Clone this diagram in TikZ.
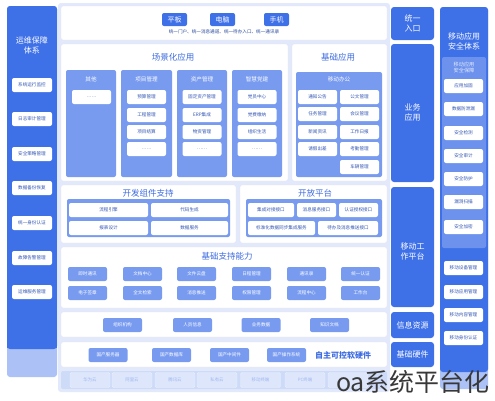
\documentclass[tikz,border=0pt]{standalone}
\usepackage{fontspec}
\setmainfont{Noto Sans CJK SC}
\definecolor{db}{RGB}{62,112,232}
\definecolor{mb}{RGB}{120,155,240}
\definecolor{sb}{RGB}{108,146,238}
\definecolor{bg}{RGB}{226,233,250}
\definecolor{lb}{RGB}{172,194,246}
\definecolor{band}{RGB}{206,219,248}
\definecolor{bandbox}{RGB}{221,230,251}
\definecolor{tb}{RGB}{62,108,225}
\tikzset{
  panel/.style={fill=white, draw=bg!70!blue!30, line width=0.4pt, rounded corners=2pt},
  colbox/.style={fill=db, rounded corners=3pt},
  grp/.style={fill=mb, rounded corners=2pt},
  wbox/.style={fill=white, rounded corners=2pt, minimum height=14pt, inner sep=0pt, font=\fontsize{4.6}{5}\selectfont, text=tb!80!black},
  bbox/.style={fill=mb, rounded corners=2pt, minimum height=14pt, minimum width=39pt, inner sep=0pt, font=\fontsize{4.6}{5}\selectfont, text=white},
  lbox/.style={fill=bandbox, draw=white!60!band, rounded corners=1.5pt, minimum height=15pt, minimum width=40pt, inner sep=0pt, font=\fontsize{4.4}{5}\selectfont, text=tb!50!white},
  ttl/.style={font=\fontsize{8.5}{9}\selectfont, text=tb, inner sep=0pt},
  wttl/.style={font=\fontsize{8}{10}\selectfont, text=white, align=center, inner sep=0pt},
  ghead/.style={font=\fontsize{5.6}{6}\selectfont, text=white, inner sep=0pt, align=center},
  btn/.style={fill=db, rounded corners=2pt, minimum width=25pt, minimum height=13pt, inner sep=0pt, font=\fontsize{7}{7}\selectfont, text=white}
}
\begin{document}
\begin{tikzpicture}[x=1pt,y=-1pt]
\useasboundingbox (0,0) rectangle (495,400);
\fill[white] (0,0) rectangle (495,400);
% main background
\fill[bg, rounded corners=3pt] (58,3) rectangle (390,392);
% left column
\fill[lb, rounded corners=3pt] (7,6) rectangle (57,377);
\fill[db, rounded corners=3pt] (7,6) rectangle (57,349);
\fill[db] (7,340) rectangle (57,348);
\node[wttl] (ltitle) at (32,45) {运维保障\\体系};
\node[wbox, minimum width=40pt] (l1) at (32,85) {系统运行监控};
\node[wbox, minimum width=40pt] (l2) at (32,119) {日志审计管理};
\node[wbox, minimum width=40pt] (l3) at (32,154) {安全策略管理};
\node[wbox, minimum width=40pt] (l4) at (32,188) {数据备份恢复};
\node[wbox, minimum width=40pt] (l5) at (32,223) {统一身份认证};
\node[wbox, minimum width=40pt] (l6) at (32,258) {故障告警管理};
\node[wbox, minimum width=40pt] (l7) at (32,292) {运维服务管理};
% top panel
\draw[panel] (61,6) rectangle (387,40);
\node[btn] (pb) at (174.5,19.5) {平板};
\node[btn] (dn) at (222.5,19.5) {电脑};
\node[btn] (sj) at (276.5,19.5) {手机};
\node[font=\fontsize{4.6}{5}\selectfont, text=tb!70!black, inner sep=0pt] (sub) at (224,32) {统一门户、统一消息通道、统一待办入口、统一通讯录};
% scene apps
\draw[panel] (61,44) rectangle (288,181);
\node[ttl] (scn) at (173,57) {场景化应用};
\fill[grp] (66,70) rectangle (116,177);
\fill[grp] (121,70) rectangle (172,177);
\fill[grp] (177,70) rectangle (227,177);
\fill[grp] (232,70) rectangle (282,177);
\node[ghead] (g1h) at (91,79) {其他};
\node[ghead] (g2h) at (146.5,79) {项目管理};
\node[ghead] (g3h) at (202,79) {资产管理};
\node[ghead] (g4h) at (257,79) {智慧党建};
\node[wbox, minimum width=39pt] (g1a) at (91.5,97) {……};
\node[wbox, minimum width=39pt] (g2a) at (146.5,97) {预算管理};
\node[wbox, minimum width=39pt] (g2b) at (146.5,115) {工程管理};
\node[wbox, minimum width=39pt] (g2c) at (146.5,132) {项目结算};
\node[wbox, minimum width=39pt] (g2d) at (146.5,149) {……};
\node[wbox, minimum width=39pt] (g3a) at (202,97) {固定资产管理};
\node[wbox, minimum width=39pt] (g3b) at (202,115) {ERP集成};
\node[wbox, minimum width=39pt] (g3c) at (202,132) {物资管理};
\node[wbox, minimum width=39pt] (g3d) at (202,149) {……};
\node[wbox, minimum width=39pt] (g4a) at (257,97) {党员中心};
\node[wbox, minimum width=39pt] (g4b) at (257,115) {党费缴纳};
\node[wbox, minimum width=39pt] (g4c) at (257,132) {组织生活};
\node[wbox, minimum width=39pt] (g4d) at (257,149) {……};
% basic apps
\draw[panel] (292,44) rectangle (387,181);
\node[ttl] (bas) at (338,57) {基础应用};
\fill[grp] (296,72) rectangle (382,177);
\node[ghead] (moh) at (339,79) {移动办公};
\node[wbox, minimum width=39pt] (m1) at (317.5,97) {通知公告};
\node[wbox, minimum width=39pt] (m2) at (317.5,114) {任务管理};
\node[wbox, minimum width=39pt] (m3) at (317.5,132) {新闻资讯};
\node[wbox, minimum width=39pt] (m4) at (317.5,149) {请假出差};
\node[wbox, minimum width=39pt] (m5) at (359.5,97) {公文管理};
\node[wbox, minimum width=39pt] (m6) at (359.5,114) {会议管理};
\node[wbox, minimum width=39pt] (m7) at (359.5,132) {工作日报};
\node[wbox, minimum width=39pt] (m8) at (359.5,149) {考勤管理};
\node[wbox, minimum width=39pt] (m9) at (359.5,167) {车辆管理};
% dev components
\draw[panel] (61,185) rectangle (236,243);
\node[ttl] (dev) at (148,193) {开发组件支持};
\fill[mb, rounded corners=2pt] (67,199) rectangle (230,237);
\node[wbox, minimum width=79pt] (d1) at (108.5,210) {流程引擎};
\node[wbox, minimum width=77pt] (d2) at (189.5,210) {代码生成};
\node[wbox, minimum width=79pt] (d3) at (108.5,228) {报表设计};
\node[wbox, minimum width=77pt] (d4) at (189.5,228) {数据服务};
% open platform
\draw[panel] (240,185) rectangle (387,243);
\node[ttl] (opn) at (315,193) {开放平台};
\fill[mb, rounded corners=2pt] (246,199) rectangle (382,237);
\node[wbox, minimum width=46pt] (o1) at (271,210) {集成对接接口};
\node[wbox, minimum width=39pt] (o2) at (316.5,210) {消息服务接口};
\node[wbox, minimum width=39pt] (o3) at (358.5,210) {认证授权接口};
\node[wbox, minimum width=67pt] (o4) at (281.5,228) {标准化数据同步集成服务};
\node[wbox, minimum width=60pt] (o5) at (348,228) {待办及消息推送接口};
% basic support
\draw[panel] (61,247) rectangle (387,308);
\node[ttl] (sup) at (227,256) {基础支持能力};
\node[bbox] (s1) at (87.5,274) {即时通讯};
\node[bbox] (s2) at (142.5,274) {文档中心};
\node[bbox] (s3) at (196.5,274) {文件云盘};
\node[bbox] (s4) at (251.5,274) {日程管理};
\node[bbox] (s5) at (306.5,274) {通讯录};
\node[bbox] (s6) at (360.5,274) {统一认证};
\node[bbox] (s7) at (87.5,293) {电子签章};
\node[bbox] (s8) at (142.5,293) {全文检索};
\node[bbox] (s9) at (196.5,293) {消息推送};
\node[bbox] (s10) at (251.5,293) {权限管理};
\node[bbox] (s11) at (306.5,293) {流程中心};
\node[bbox] (s12) at (360.5,293) {工作台};
% info resources
\draw[panel] (61,312) rectangle (387,337);
\node[bbox] (i1) at (122.5,325) {组织机构};
\node[bbox] (i2) at (192.5,325) {人员信息};
\node[bbox] (i3) at (261,325) {业务数据};
\node[bbox] (i4) at (329.5,325) {知识文档};
% self-controlled
\draw[panel] (61,342) rectangle (387,367);
\node[bbox] (h1) at (108,355) {国产服务器};
\node[bbox] (h2) at (171.5,355) {国产数据库};
\node[bbox] (h3) at (229.5,355) {国产中间件};
\node[bbox] (h4) at (286.5,355) {国产操作系统};
\node[ttl, font=\fontsize{8}{9}\selectfont\bfseries] (zz) at (343,355) {自主可控软硬件};
% bottom band
\fill[band, rounded corners=2pt] (61,371) rectangle (387,389);
\node[lbox] (b1) at (90,380) {华为云};
\node[lbox] (b2) at (132,380) {阿里云};
\node[lbox] (b3) at (175,380) {腾讯云};
\node[lbox] (b4) at (217,380) {私有云};
\node[lbox] (b5) at (260.5,380) {移动终端};
\node[lbox] (b6) at (305,380) {PC终端};
\node[lbox] (b7) at (348,380) {};
% right column
\fill[colbox] (391,7) rectangle (434,40);
\fill[colbox] (391,44) rectangle (434,182);
\fill[colbox] (391,187) rectangle (434,307);
\fill[colbox] (391,312) rectangle (434,338);
\fill[colbox] (391,342) rectangle (434,367);
\node[wttl] (r1) at (412.5,23.5) {统一\\入口};
\node[wttl] (r2) at (412.5,112) {业务\\应用};
\node[wttl] (r3) at (412.5,251) {移动工\\作平台};
\node[wttl] (r4) at (412.5,325) {信息资源};
\node[wttl] (r5) at (412.5,354.5) {基础硬件};
% far right column
\fill[lb, rounded corners=3pt] (440,7) rectangle (488,389);
\fill[db, rounded corners=3pt] (440,7) rectangle (488,372);
\node[wttl] (fr) at (464,41) {移动应用\\安全体系};
\fill[sb, rounded corners=2pt] (442,57) rectangle (486,248);
\node[ghead, text=white!85!db, font=\fontsize{5.2}{6.5}\selectfont] (frh) at (464,67.5) {移动应用\\安全保障};
\node[wbox, minimum width=39pt] (f1) at (463.5,86) {应用加固};
\node[wbox, minimum width=39pt] (f2) at (463.5,109) {数据防泄漏};
\node[wbox, minimum width=39pt] (f3) at (463.5,133) {安全检测};
\node[wbox, minimum width=39pt] (f4) at (463.5,156) {安全审计};
\node[wbox, minimum width=39pt] (f5) at (463.5,179) {安全防护};
\node[wbox, minimum width=39pt] (f6) at (463.5,202) {漏洞扫描};
\node[wbox, minimum width=39pt] (f7) at (463.5,227) {安全加密};
\node[wbox, minimum width=39pt] (f8) at (463.5,268) {移动设备管理};
\node[wbox, minimum width=39pt] (f9) at (463.5,292) {移动应用管理};
\node[wbox, minimum width=39pt] (f10) at (463.5,315) {移动内容管理};
\node[wbox, minimum width=39pt] (f11) at (463.5,338) {移动身份认证};
% watermark
\node[font=\fontsize{25}{26}\selectfont, text=black!78, inner sep=0pt] (wm) at (413,382) {oa系统平台化};
\end{tikzpicture}
\end{document}
